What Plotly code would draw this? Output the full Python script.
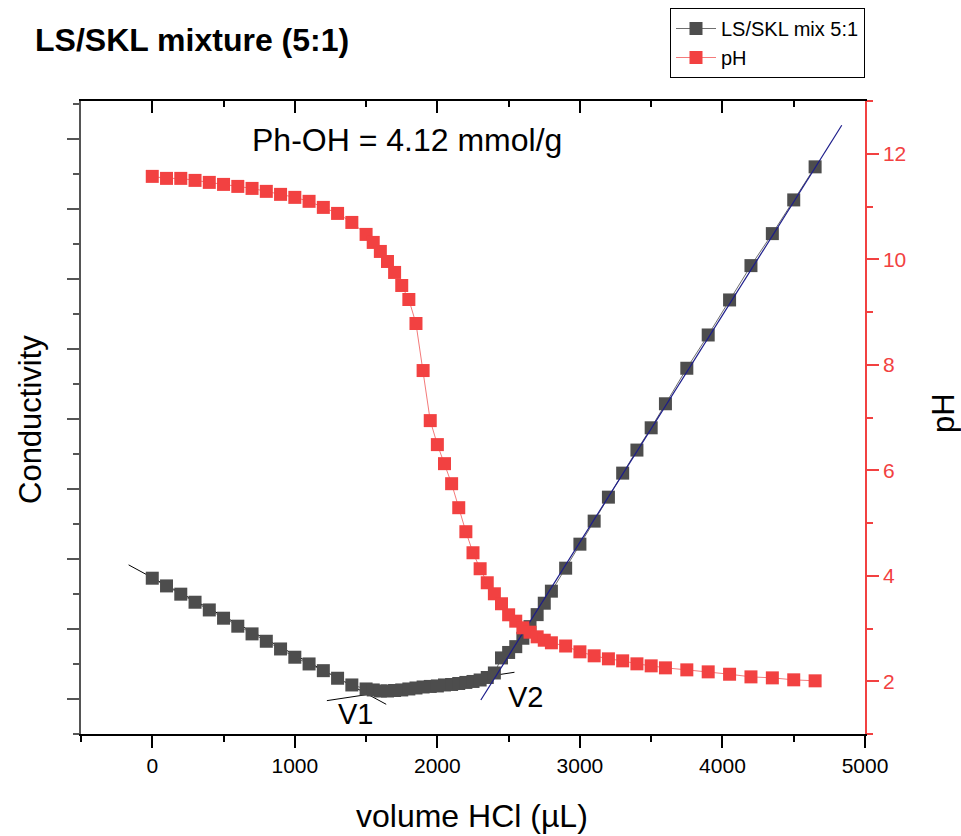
import plotly.graph_objects as go

# ---------------- data ----------------
cond_volume = [0, 100, 200, 300, 400, 500, 600, 700, 800, 900, 1000, 1100, 1200, 1300, 1400,
               1500, 1550, 1600, 1650, 1700, 1750, 1800, 1850, 1900, 1950, 2000, 2050, 2100,
               2150, 2200, 2250, 2300, 2350, 2400, 2450, 2500, 2550, 2600, 2650, 2700, 2750,
               2800, 2900, 3000, 3100, 3200, 3300, 3400, 3500, 3600, 3750, 3900, 4050, 4200,
               4350, 4500, 4650]
conductivity = [2.724, 2.614, 2.496, 2.381, 2.271, 2.153, 2.039, 1.929, 1.824, 1.714, 1.596,
                1.500, 1.404, 1.296, 1.200,
                1.143, 1.129, 1.114, 1.114, 1.121, 1.129, 1.143, 1.157, 1.171, 1.179, 1.186,
                1.200, 1.207, 1.221, 1.236, 1.250, 1.271, 1.307, 1.371, 1.586, 1.664, 1.747,
                1.867, 2.033, 2.204, 2.367, 2.539, 2.867, 3.210, 3.539, 3.881, 4.224, 4.553,
                4.871, 5.214, 5.721, 6.196, 6.696, 7.186, 7.643, 8.124, 8.596]

ph_volume = [0, 100, 200, 300, 400, 500, 600, 700, 800, 900, 1000, 1100, 1200, 1300, 1400,
             1500, 1550, 1600, 1650, 1700, 1750, 1800, 1850, 1900, 1950, 2000, 2050, 2100,
             2150, 2200, 2250, 2300, 2350, 2400, 2450, 2500, 2550, 2600, 2650, 2700, 2750,
             2800, 2900, 3000, 3100, 3200, 3300, 3400, 3500, 3600, 3750, 3900, 4050, 4200,
             4350, 4500, 4650]
ph_values = [11.571, 11.533, 11.533, 11.495, 11.457, 11.419, 11.381, 11.343, 11.287, 11.230,
             11.173, 11.098, 10.983, 10.869, 10.698, 10.471, 10.319, 10.148, 9.958, 9.750,
             9.503, 9.237, 8.782, 7.890, 6.941, 6.486, 6.125, 5.745, 5.290, 4.835, 4.436,
             4.133, 3.867, 3.658, 3.469, 3.260, 3.139, 3.013, 2.930, 2.842, 2.778, 2.729,
             2.668, 2.558, 2.482, 2.425, 2.387, 2.330, 2.292, 2.254, 2.216, 2.178, 2.133,
             2.083, 2.064, 2.027, 2.008]

# linear fits (end points)
fit1_x = [-166, 1641]
fit1_y = [2.914, 0.924]
fit2_x = [1225, 2541]
fit2_y = [0.976, 1.381]
fit3_x = [2305, 4837]
fit3_y = [0.986, 9.19]

x_ticks = [0, 1000, 2000, 3000, 4000, 5000]
ph_ticks = [2, 4, 6, 8, 10, 12]

FONT = "Arial, Liberation Sans, sans-serif"
DARK = "#4d4d4d"
RED = "#f24141"

fig = go.Figure()

fig.add_trace(go.Scatter(x=fit1_x, y=fit1_y, mode="lines", line=dict(color="black", width=1),
                         showlegend=False, hoverinfo="skip"))
fig.add_trace(go.Scatter(x=fit2_x, y=fit2_y, mode="lines", line=dict(color="black", width=1),
                         showlegend=False, hoverinfo="skip"))

fig.add_trace(go.Scatter(x=cond_volume, y=conductivity, mode="lines+markers", name="LS/SKL mix 5:1",
                         line=dict(color="#6e6e6e", width=1),
                         marker=dict(symbol="square", size=13, color=DARK, line=dict(width=0))))
fig.add_trace(go.Scatter(x=ph_volume, y=ph_values, mode="lines+markers", name="pH", yaxis="y2",
                         line=dict(color="#f47a7a", width=1),
                         marker=dict(symbol="square", size=13, color=RED, line=dict(width=0))))

fig.add_trace(go.Scatter(x=fit3_x, y=fit3_y, mode="lines", line=dict(color="#1c1c8a", width=1.2),
                         showlegend=False, hoverinfo="skip"))

# dummy trace for the top (mirror) axis
fig.add_trace(go.Scatter(x=[None], y=[None], xaxis="x2", yaxis="y", showlegend=False,
                         hoverinfo="skip"))

fig.update_layout(
    width=961, height=836,
    margin=dict(l=81, r=96, t=101, b=102, autoexpand=False),
    paper_bgcolor="white", plot_bgcolor="white",
    font=dict(family=FONT, color="black"),
    title=dict(text="<b>LS/SKL mixture (5:1)</b>", x=35 / 961, xanchor="left",
               y=1 - 40 / 836, yanchor="middle", font=dict(size=32, family=FONT)),
    xaxis=dict(range=[-500, 5000], tickvals=x_ticks, ticks="outside", ticklen=12, tickwidth=1.5,
               tickcolor="black", showline=True, linecolor="black", linewidth=1.5,
               showgrid=False, zeroline=False, tickfont=dict(size=21),
               minor=dict(dtick=500, tick0=0, ticks="outside", ticklen=6, tickwidth=1.5,
                          tickcolor="black")),
    xaxis2=dict(range=[-500, 5000], overlaying="x", side="top", anchor="y",
                tickvals=x_ticks, ticks="inside", ticklen=12, tickwidth=1.5, tickcolor="black",
                showticklabels=False, showline=True, linecolor="black", linewidth=1.5,
                showgrid=False, zeroline=False,
                minor=dict(dtick=500, tick0=0, ticks="inside", ticklen=6, tickwidth=1.5,
                           tickcolor="black")),
    yaxis=dict(range=[0.5, 9.536], dtick=1, tick0=0, ticks="outside", ticklen=12, tickwidth=1.5,
               tickcolor="#555555", showticklabels=False, showline=True, linecolor="#555555",
               linewidth=1.5, showgrid=False, zeroline=False,
               minor=dict(dtick=0.5, tick0=0, ticks="outside", ticklen=6, tickwidth=1.5,
                          tickcolor="#555555")),
    yaxis2=dict(range=[1, 13], overlaying="y", side="right", anchor="x", tickvals=ph_ticks,
                ticks="outside", ticklen=12, tickwidth=1.5, tickcolor=RED,
                tickfont=dict(size=21, color=RED), showline=True, linecolor=RED, linewidth=1.5,
                showgrid=False, zeroline=False,
                minor=dict(dtick=1, tick0=0, ticks="outside", ticklen=6, tickwidth=1.5,
                           tickcolor=RED)),
    legend=dict(x=(670 - 81) / 784, y=(734 - 8) / 633, xanchor="left", yanchor="top",
                bordercolor="black", borderwidth=1, bgcolor="white",
                font=dict(size=20, family=FONT), tracegroupgap=0, itemwidth=40),
    showlegend=True,
)

annots = [
    dict(text="Ph-OH = 4.12 mmol/g", x=(407 - 81) / 784, y=(734 - 140) / 633, size=32, angle=0),
    dict(text="V1", x=(355 - 81) / 784, y=(734 - 714) / 633, size=29, angle=0),
    dict(text="V2", x=(525 - 81) / 784, y=(734 - 697) / 633, size=29, angle=0),
    dict(text="Conductivity", x=(30 - 81) / 784, y=(734 - 420) / 633, size=31, angle=-90),
    dict(text="pH", x=(943 - 81) / 784, y=(734 - 413) / 633, size=31, angle=-90),
    dict(text="volume HCl (µL)", x=(472 - 81) / 784, y=(734 - 816) / 633, size=32, angle=0),
]
for a in annots:
    fig.add_annotation(text=a["text"], x=a["x"], y=a["y"], xref="paper", yref="paper",
                       xanchor="center", yanchor="middle", showarrow=False, textangle=a["angle"],
                       font=dict(size=a["size"], family=FONT, color="black"))

fig.write_html("out.html", config={"displayModeBar": False},
               post_script="document.body.style.margin='0';document.body.style.overflow='hidden';")
